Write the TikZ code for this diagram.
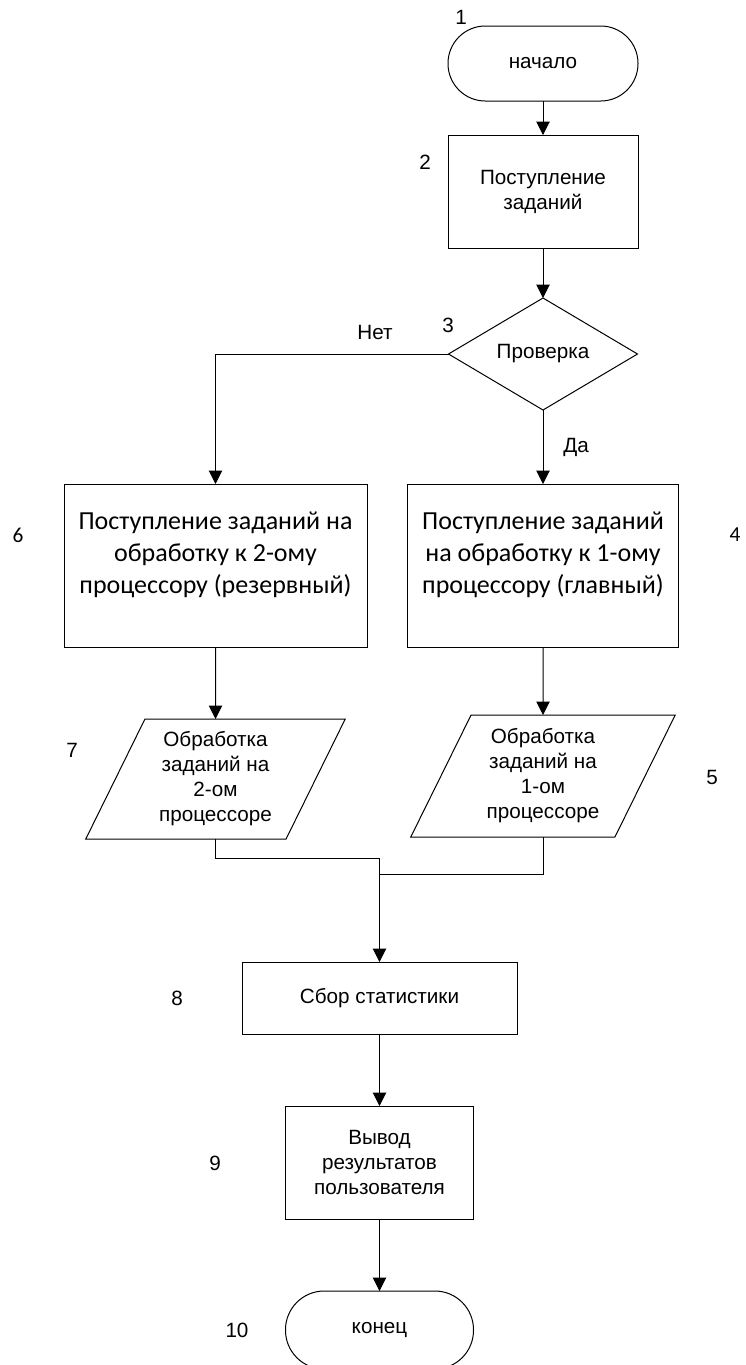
\documentclass[tikz,border=0pt]{standalone}
\usepackage{fontspec}
\setmainfont{Liberation Sans}
\newfontfamily\calib{Carlito}
\usetikzlibrary{shapes.geometric,arrows.meta}
\begin{document}
\begin{tikzpicture}[x=0.75pt,y=-0.75pt,
  every node/.style={inner sep=0pt, outer sep=0pt},
  txt/.style={font=\fontsize{15.5pt}{18.75pt}\selectfont, align=center},
  ctxt/.style={font=\calib\fontsize{19.5pt}{24pt}\selectfont, align=center},
  line/.style={line width=0.75pt},
  proc/.style={draw, line, rectangle, txt},
  term/.style={draw, line, rectangle, rounded corners=28pt, txt},
  decision/.style={draw, line, diamond, txt},
  io/.style={draw, line, trapezium, trapezium left angle=63.43,
    trapezium right angle=116.57, trapezium stretches=true, txt},
  arr/.style={line, -{Triangle[width=10pt,length=10pt]}},
  num/.style={font=\fontsize{15.5pt}{18pt}\selectfont},
  cnum/.style={font=\calib\fontsize{16pt}{18pt}\selectfont}
]
\useasboundingbox (0,0) rectangle (746,1365);

\node[term, minimum width=142.5pt, minimum height=56.25pt] (n1) at (543,63.5) {начало};
\node[proc, minimum width=142.5pt, minimum height=84.75pt] (n2) at (543,191.5) {Поступление\\заданий};
\node[decision, minimum width=141.75pt, minimum height=84pt] (n3) at (543,354) {Проверка};
\node[proc, minimum width=203.25pt, minimum height=122.25pt,
  label={[ctxt, yshift=8pt]center:Поступление заданий\\на обработку к 1-ому\\процессору (главный)}] (n4) at (543,565.5) {};
\node[proc, minimum width=227.25pt, minimum height=122.25pt,
  label={[ctxt, yshift=8pt]center:Поступление заданий на\\обработку к 2-ому\\процессору (резервный)}] (n6) at (215.5,565.5) {};
\node[io, minimum width=198.75pt, minimum height=91.5pt] (n5) at (543,776) {Обработка\\заданий на\\1-ом\\процессоре};
\node[io, minimum width=195pt, minimum height=90pt] (n7) at (215.5,779) {Обработка\\заданий на\\2-ом\\процессоре};
\node[proc, minimum width=206.25pt, minimum height=54pt] (n8) at (379.5,998) {Сбор статистики};
\node[proc, minimum width=141pt, minimum height=84.75pt] (n9) at (379.5,1162.5) {Вывод\\результатов\\пользователя};
\node[term, minimum width=141pt, minimum height=58.5pt, rounded corners=29pt] (n10) at (379.5,1330) {конец};

% number labels
\node[num] (l1) at (461,17) {1};
\node[num] (l2) at (425,162) {2};
\node[num] (l3) at (448,325) {3};
\node[cnum] (l4) at (735,535) {4};
\node[num] (l5) at (712,777) {5};
\node[cnum] (l6) at (18,535) {6};
\node[num] (l7) at (72,750) {7};
\node[num] (l8) at (177,998) {8};
\node[num] (l9) at (215,1163) {9};
\node[num] (l10) at (237,1330) {10};

\node[num] (no) at (375,332) {Нет};
\node[num] (yes) at (576,447) {Да};

\coordinate (j1) at (379.5,858);
\coordinate (j2) at (379.5,874);

\draw[arr] (n1.south) -- (n2.north);
\draw[arr] (n2.south) -- (n3.north);
\draw[arr] (n3.west) -| (n6.north);
\draw[arr] (n3.south) -- (n4.north);
\draw[arr] (n6.south) -- (n7.north);
\draw[arr] (n4.south) -- (n5.north);
\draw[line] (n7.south) |- (j1);
\draw[line] (n5.south) |- (j2);
\draw[arr] (j1) -- (n8.north);
\draw[arr] (n8.south) -- (n9.north);
\draw[arr] (n9.south) -- (n10.north);
\end{tikzpicture}
\end{document}
